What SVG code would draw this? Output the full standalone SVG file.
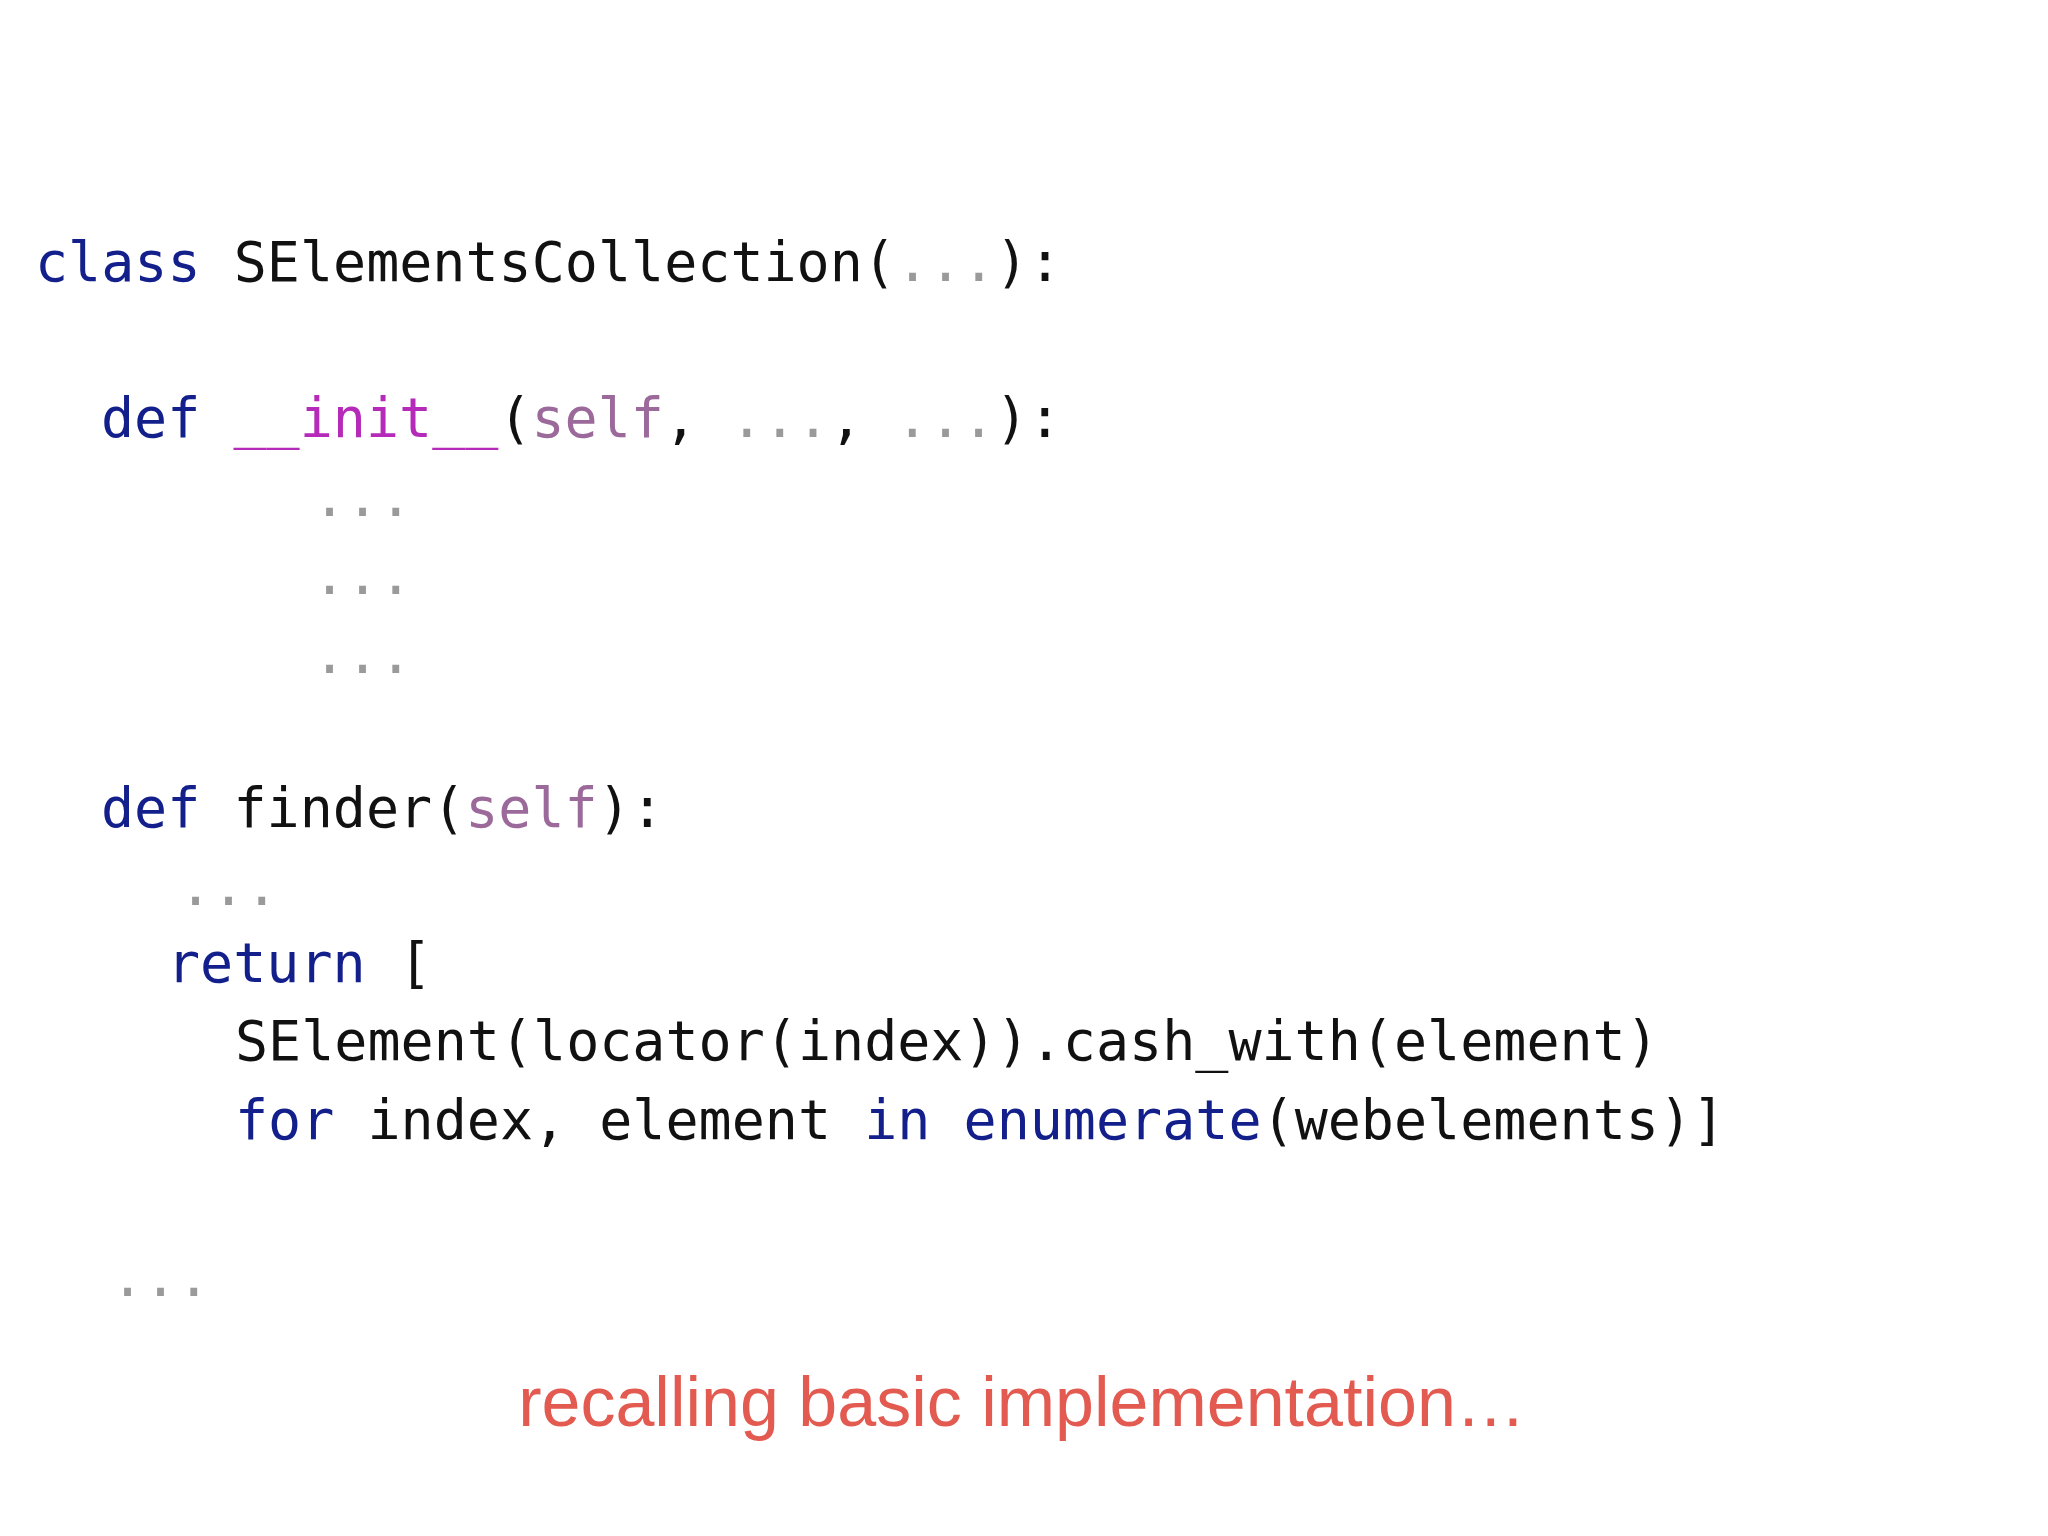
<svg xmlns="http://www.w3.org/2000/svg" width="2048" height="1536" viewBox="0 0 2048 1536">
<style>
text{font-family:"DejaVu Sans Mono","Liberation Mono",monospace;font-size:55px;fill:#111;white-space:pre}
.k{fill:#13208c}.m{fill:#b52ab8}.s{fill:#9b6a9b}.d{fill:#9a9a9a}
.cap{font-family:"Liberation Sans",Arial,sans-serif;font-size:70px;fill:#e35a50}
</style>
<rect width="2048" height="1536" fill="#fff"/>
<g id="code">
<text x="35" y="281" xml:space="preserve"><tspan class="k">class</tspan> SElementsCollection(<tspan class="d">...</tspan>):</text>
<text x="101" y="437" xml:space="preserve"><tspan class="k">def</tspan> <tspan class="m">__init__</tspan>(<tspan class="s">self</tspan>, <tspan class="d">...</tspan>, <tspan class="d">...</tspan>):</text>
<text x="313" y="516" class="d">...</text>
<text x="313" y="594" class="d">...</text>
<text x="313" y="673" class="d">...</text>
<text x="101" y="827" xml:space="preserve"><tspan class="k">def</tspan> finder(<tspan class="s">self</tspan>):</text>
<text x="179" y="905" class="d">...</text>
<text x="167" y="982" xml:space="preserve"><tspan class="k">return</tspan> [</text>
<text x="235" y="1060">SElement(locator(index)).cash_with(element)</text>
<text x="235" y="1139" xml:space="preserve"><tspan class="k">for</tspan> index, element <tspan class="k">in</tspan> <tspan class="k">enumerate</tspan>(webelements)]</text>
<text x="111" y="1296" class="d">...</text>
</g>
<g id="caption">
<text class="cap" x="1022" y="1426" text-anchor="middle">recalling basic implementation…</text>
</g>
</svg>
